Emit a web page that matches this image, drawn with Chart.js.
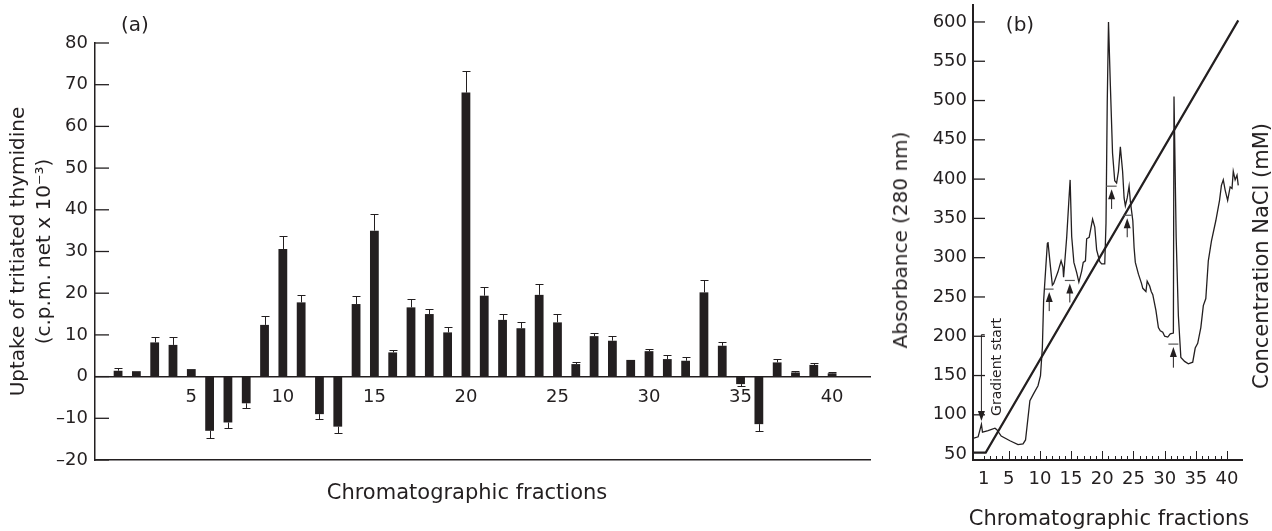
<!DOCTYPE html>
<html>
<head>
<meta charset="utf-8">
<script src="https://cdn.jsdelivr.net/npm/chart.js@4.4.0/dist/chart.umd.min.js"></script>
<style>
  body { margin: 0; background: #fff; font-family: "DejaVu Sans"; color: #231f20; }
  #page { position: relative; width: 1272px; height: 531px; overflow: hidden; }
  #chartA { position: absolute; left: 0; top: 0; }
  #chartB { position: absolute; left: 880px; top: 0; }
  .txt { position: absolute; font-size: 21px; white-space: nowrap; transform: translate(-50%, -50%); }
  .tag { font-size: 20px; }
  .rot { transform: translate(-50%, -50%) rotate(-90deg); }
</style>
</head>
<body>
<div id="page">
  <canvas id="chartA" width="880" height="531"></canvas>
  <canvas id="chartB" width="392" height="531"></canvas>
  <div class="txt tag" style="left:135px;top:24px">(a)</div>
  <div class="txt tag" style="left:1020px;top:24px">(b)</div>
  <div class="txt" style="left:467px;top:492px">Chromatographic fractions</div>
  <div class="txt rot" style="left:900px;top:240px;font-size:20px">Absorbance (280 nm)</div>
  <div class="txt rot" style="left:1261px;top:256px">Concentration NaCl (mM)</div>
  <div class="txt" style="left:1109px;top:518px">Chromatographic fractions</div>
</div>
<script>
const INK = '#231f20';

// panel (a): thymidine uptake per fraction
const fractions = [1, 2, 3, 4, 5, 6, 7, 8, 9, 10, 11, 12, 13, 14, 15, 16, 17, 18, 19, 20,
  21, 22, 23, 24, 25, 26, 27, 28, 29, 30, 31, 32, 33, 34, 35, 36, 37, 38, 39, 40];
const uptake = [1.4, 1.3, 8.2, 7.6, 1.8, -13.0, -11.0, -6.4, 12.4, 30.6, 17.8, -9.0, -12.0, 17.4, 35.0, 5.8, 16.6, 15.0, 10.6, 68.1,
  19.4, 13.6, 11.6, 19.6, 13.0, 3.0, 9.7, 8.6, 4.0, 6.1, 4.2, 3.8, 20.2, 7.4, -1.8, -11.4, 3.4, 1.0, 2.8, 0.8];
const uptakeErr = [0.6, 0, 1.4, 1.8, 0, 1.8, 1.4, 1.2, 2.2, 3.2, 1.7, 1.2, 1.6, 1.9, 4.0, 0.6, 2.0, 1.2, 1.4, 5.1,
  2.2, 1.4, 1.4, 2.5, 2.0, 0.4, 0.8, 1.1, 0, 0.5, 1.0, 0.8, 3.0, 0.8, 0.4, 1.6, 0.8, 0.3, 0.5, 0.3];
const uptakeTicksX = [5, 10, 15, 20, 25, 30, 35, 40];
const uptakeTicksY = [-20, -10, 0, 10, 20, 30, 40, 50, 60, 70, 80];

// panel (b): absorbance trace and NaCl gradient
const absX = [-0.72, 0.1, 0.63, 0.8, 1.7, 2.8, 3.1, 3.8, 5.2, 6.5, 7.3, 7.7, 8.4, 9.0, 9.7, 10.1, 10.4, 10.6, 10.95, 11.2,
  11.3, 11.7, 12.0, 12.2, 12.9, 13.4, 13.7, 13.8, 14.3, 14.65, 14.85, 15.1, 15.45, 15.9, 16.25, 16.7, 16.95, 17.3, 17.5, 17.9,
  18.45, 18.8, 19.1, 19.6, 19.9, 20.4, 20.6, 20.8, 21.0, 21.3, 21.65, 22.0, 22.3, 22.6, 22.9, 23.26, 23.5, 23.7, 24.0, 24.3,
  24.5, 24.9, 25.1, 25.3, 25.8, 26.3, 26.5, 27.0, 27.2, 27.6, 27.85, 28.1, 28.6, 29.0, 29.3, 29.7, 30.0, 30.5, 30.9, 31.4,
  31.5, 31.85, 32.2, 32.6, 33.2, 33.8, 34.5, 34.9, 35.3, 35.8, 36.2, 36.6, 37.0, 37.5, 38.2, 38.8, 39.1, 39.4, 39.7, 40.1,
  40.5, 40.8, 41.0, 41.3, 41.6, 41.8];
const absY = [70, 72, 88, 78, 80, 83, 81, 73, 67, 62, 63, 68, 118, 127, 137, 150, 186, 245, 288, 318,
  320, 288, 265, 267, 282, 296, 288, 275, 326, 373, 399, 327, 294, 281, 269, 283, 294, 296, 324, 326,
  349, 339, 310, 295, 292, 292, 344, 498, 600, 519, 433, 398, 395, 410, 441, 410, 376, 366, 376, 391,
  372, 347, 313, 294, 279, 267, 261, 257, 270, 264, 257, 253, 233, 211, 207, 205, 200, 199, 203, 204,
  505, 325, 226, 173, 168, 165, 167, 185, 191, 211, 239, 248, 296, 321, 347, 373, 392, 399, 386, 373,
  390, 388, 410, 399, 405, 392];
const gradX = [-0.72, 1.32, 41.8];
const gradY = [52, 52, 602];
const absTicksY = [50, 100, 150, 200, 250, 300, 350, 400, 450, 500, 550, 600];
const absTicksX = [1, 5, 10, 15, 20, 25, 30, 35, 40];
const minorTicksX = [1, 2, 3, 4, 5, 6, 7, 8, 9, 10, 11, 12, 13, 14, 15, 16, 17, 18, 19, 20, 21,
  22, 23, 24, 25, 26, 27, 28, 29, 30, 31, 32, 33, 34, 35, 36, 37, 38, 39, 40];

// peak markers (bar + arrow) and the gradient start marker
const peakBarX0 = [10.8, 14.0, 20.6, 23.4, 30.6];
const peakBarX1 = [12.2, 15.6, 22.3, 24.7, 32.2];
const peakBarY = [260, 271, 391, 354, 190];
const arrowX = [11.5, 14.8, 21.5, 24.0, 31.4];
const arrowTail = [232, 243, 362, 326, 160];
const gradStart = { x: 0.63, capX: 1.16, top: 202, tip: 92, textX: 3.25, textY: 161 };

Chart.defaults.font.family = 'DejaVu Sans';
Chart.defaults.font.size = 18;
Chart.defaults.color = INK;

function noPadY(s) { s.paddingTop = 0; s.paddingBottom = 0; }
function noPadX(s) { s.paddingLeft = 0; s.paddingRight = 0; }

const uptakeDecor = {
  id: 'uptakeDecor',
  afterDatasetsDraw(chart) {
    const { ctx, chartArea, scales: { x, y } } = chart;
    ctx.save();
    ctx.strokeStyle = INK;
    ctx.lineWidth = 1;
    fractions.forEach((f, i) => {
      const e = uptakeErr[i];
      if (!e) return;
      const v = uptake[i];
      const end = v >= 0 ? v + e : v - e;
      const px = Math.round(x.getPixelForValue(f)) + 0.5;
      const y0 = y.getPixelForValue(v);
      const y1 = Math.round(y.getPixelForValue(end)) + 0.5;
      ctx.beginPath();
      ctx.moveTo(px, y0); ctx.lineTo(px, y1);
      ctx.moveTo(px - 4, y1); ctx.lineTo(px + 4, y1);
      ctx.stroke();
    });
    ctx.lineWidth = 1.3;
    uptakeTicksY.forEach(v => {
      const py = y.getPixelForValue(v);
      ctx.beginPath();
      ctx.moveTo(chartArea.left, py); ctx.lineTo(chartArea.left + 14, py);
      ctx.stroke();
    });
    ctx.restore();
  }
};

const absDecor = {
  id: 'absDecor',
  afterDatasetsDraw(chart) {
    const { ctx, chartArea, scales: { x, y } } = chart;
    ctx.save();
    ctx.strokeStyle = INK;
    ctx.fillStyle = INK;
    // inward ticks
    ctx.lineWidth = 1.3;
    absTicksY.slice(1).forEach(v => {
      const py = y.getPixelForValue(v);
      ctx.beginPath();
      ctx.moveTo(chartArea.left, py); ctx.lineTo(chartArea.left + 12, py);
      ctx.stroke();
    });
    ctx.lineWidth = 1;
    minorTicksX.forEach(v => {
      const px = Math.round(x.getPixelForValue(v)) + 0.5;
      const len = v % 5 === 0 ? 9 : 4;
      ctx.beginPath();
      ctx.moveTo(px, chartArea.bottom); ctx.lineTo(px, chartArea.bottom - len);
      ctx.stroke();
    });
    // peak markers
    peakBarY.forEach((v, i) => {
      const py = y.getPixelForValue(v);
      ctx.strokeStyle = '#555';
      ctx.lineWidth = 1.2;
      ctx.beginPath();
      ctx.moveTo(x.getPixelForValue(peakBarX0[i]), py);
      ctx.lineTo(x.getPixelForValue(peakBarX1[i]), py);
      ctx.stroke();
      const px = x.getPixelForValue(arrowX[i]);
      const tip = py + 3;
      ctx.strokeStyle = INK;
      ctx.lineWidth = 1;
      ctx.beginPath();
      ctx.moveTo(px, y.getPixelForValue(arrowTail[i])); ctx.lineTo(px, tip + 8);
      ctx.stroke();
      ctx.beginPath();
      ctx.moveTo(px, tip); ctx.lineTo(px - 3.5, tip + 10); ctx.lineTo(px + 3.5, tip + 10);
      ctx.closePath(); ctx.fill();
    });
    // gradient start
    const gx = x.getPixelForValue(gradStart.x);
    const gTop = y.getPixelForValue(gradStart.top);
    const gTip = y.getPixelForValue(gradStart.tip);
    ctx.lineWidth = 1;
    ctx.beginPath();
    ctx.moveTo(x.getPixelForValue(gradStart.capX), gTop); ctx.lineTo(gx, gTop);
    ctx.lineTo(gx, gTip - 9);
    ctx.stroke();
    ctx.beginPath();
    ctx.moveTo(gx, gTip); ctx.lineTo(gx - 3.5, gTip - 10); ctx.lineTo(gx + 3.5, gTip - 10);
    ctx.closePath(); ctx.fill();
    ctx.translate(x.getPixelForValue(gradStart.textX), y.getPixelForValue(gradStart.textY));
    ctx.rotate(-Math.PI / 2);
    ctx.font = '14px "DejaVu Sans"';
    ctx.textAlign = 'center';
    ctx.textBaseline = 'middle';
    ctx.fillText('Gradient start', 0, 0);
    ctx.restore();
  }
};

new Chart(document.getElementById('chartA'), {
  type: 'bar',
  data: {
    datasets: [{
      data: fractions.map((f, i) => ({ x: f, y: uptake[i] })),
      backgroundColor: INK,
      barPercentage: 0.48,
      categoryPercentage: 1,
      xAxisID: 'x',
      yAxisID: 'y'
    }]
  },
  options: {
    responsive: false,
    animation: false,
    layout: { padding: { top: 43, right: 10, left: 0, bottom: 0 } },
    plugins: { legend: { display: false }, tooltip: { enabled: false } },
    scales: {
      x: {
        type: 'linear', position: { y: 0 }, min: -0.26, max: 42.07, offset: false,
        afterBuildTicks: s => { s.ticks = uptakeTicksX.map(v => ({ value: v })); },
        afterFit: noPadX,
        grid: { display: false, drawTicks: false },
        border: { display: true, color: INK, width: 1.5 },
        ticks: { padding: 10, autoSkip: false, maxRotation: 0 }
      },
      x2: {
        type: 'linear', position: 'bottom', min: -0.26, max: 42.07, offset: false,
        afterFit: s => { s.height = 71; noPadX(s); },
        grid: { display: false, drawTicks: false },
        border: { display: true, color: INK, width: 1.5 },
        ticks: { display: false }
      },
      y: {
        min: -20, max: 80,
        afterBuildTicks: s => { s.ticks = uptakeTicksY.map(v => ({ value: v })); },
        afterFit: s => { s.width = 95; noPadY(s); },
        grid: { display: false, drawTicks: false },
        border: { display: true, color: INK, width: 1.5 },
        ticks: { padding: 7, callback: v => v < 0 ? '\u2013' + Math.abs(v) : String(v) },
        title: {
          display: true,
          text: ['Uptake of tritiated thymidine', '(c.p.m. net x 10\u207B\u00B3)'],
          font: { size: 20, lineHeight: 26 / 20 },
          padding: { top: 6, bottom: 0 }
        }
      }
    }
  },
  plugins: [uptakeDecor]
});

new Chart(document.getElementById('chartB'), {
  type: 'line',
  data: {
    datasets: [
      {
        data: absX.map((v, i) => ({ x: v, y: absY[i] })),
        borderColor: INK, borderWidth: 1.3, pointRadius: 0, tension: 0
      },
      {
        data: gradX.map((v, i) => ({ x: v, y: gradY[i] })),
        borderColor: INK, borderWidth: 2.2, pointRadius: 0, tension: 0
      }
    ]
  },
  options: {
    responsive: false,
    animation: false,
    layout: { padding: { top: 5, right: 30, left: 0, bottom: 0 } },
    plugins: { legend: { display: false }, tooltip: { enabled: false } },
    scales: {
      x: {
        type: 'linear', min: -0.72, max: 42.4, offset: false,
        afterBuildTicks: s => { s.ticks = absTicksX.map(v => ({ value: v })); },
        afterFit: s => { s.height = 71; noPadX(s); },
        grid: { display: false, drawTicks: false },
        border: { display: true, color: INK, width: 2 },
        ticks: { padding: 9, autoSkip: false, maxRotation: 0 }
      },
      y: {
        min: 42.5, max: 621.6,
        afterBuildTicks: s => { s.ticks = absTicksY.map(v => ({ value: v })); },
        afterFit: s => { s.width = 93; noPadY(s); },
        grid: { display: false, drawTicks: false },
        border: { display: true, color: INK, width: 2 },
        ticks: { padding: 6 }
      }
    }
  },
  plugins: [absDecor]
});
</script>
</body>
</html>
